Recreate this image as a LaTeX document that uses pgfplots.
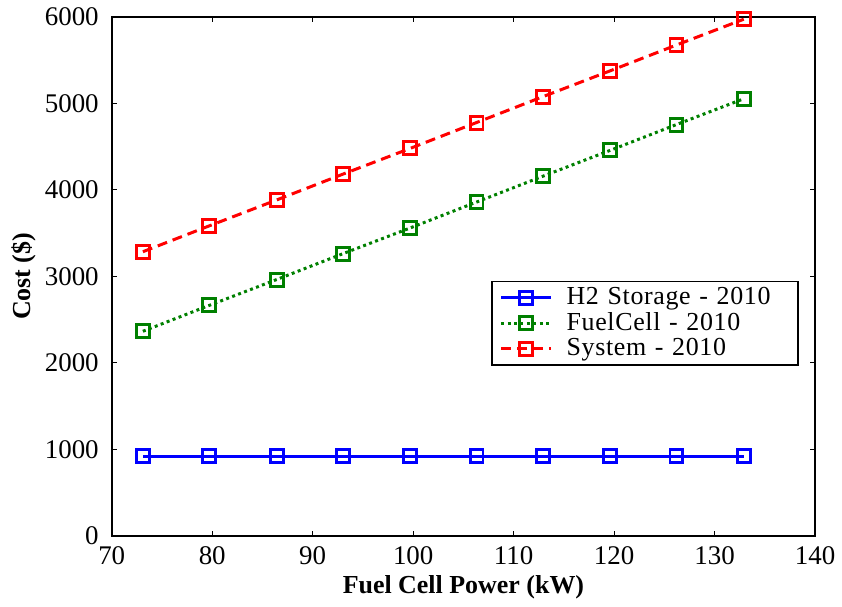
\documentclass[border=0pt]{standalone}
\usepackage{fontspec}
\setmainfont{Liberation Serif}
\newfontfamily\legfont[LetterSpace=2.5]{Liberation Serif}
\usepackage{pgfplots}
\pgfplotsset{compat=1.18}
\definecolor{mblue}{RGB}{0,0,255}
\definecolor{mgreen}{RGB}{0,128,0}
\definecolor{mred}{RGB}{255,0,0}
\begin{document}
\begin{tikzpicture}
\begin{axis}[
    scale only axis,
    at={(0,0)}, anchor=south west,
    width=352.5pt, height=260pt,
    xmin=70, xmax=140, ymin=0, ymax=6000,
    xtick={70,80,...,140},
    ytick={0,1000,...,6000},
    tick align=inside,
    major tick length=2.5pt,
    axis line style={line width=0.9pt},
    every tick/.style={black, line width=0.5pt},
    /pgf/number format/assume math mode=true,
    /pgf/number format/1000 sep={},
    tick label style={font=\fontsize{13.5}{15}\selectfont},
    xticklabel style={yshift=-2pt},
    yticklabel style={xshift=-3pt},
    xlabel={\textbf{Fuel Cell Power (kW)}},
    ylabel={\textbf{Cost (\$)}},
    label style={font=\fontsize{13}{15}\selectfont},
    xlabel style={at={(axis description cs:0.5,-0.1)}, anchor=center},
    ylabel style={at={(axis description cs:-0.125,0.5)}, anchor=center},
    legend style={at={(0.539,0.492)}, anchor=north west,
        font=\legfont\fontsize{13}{15}\selectfont, draw=black, line width=0.9pt,
        inner xsep=4pt, inner ysep=1pt, row sep=-1.5pt,
        text width=110pt},
    legend cell align=left,
    legend image code/.code={%
        \draw[mark repeat=2, mark phase=2, #1]
        plot coordinates {(0pt,0pt) (12.5pt,0pt) (25pt,0pt)};
        \path (30pt,0pt);},
    every axis plot/.append style={line width=1.5pt, mark=square, mark size=3.25pt,
        mark options={solid, line width=1.5pt}},
]
\addplot[mblue] coordinates {
(73.1,920) (79.7,920) (86.4,920) (93.0,920) (99.7,920)
(106.3,920) (112.9,920) (119.6,920) (126.2,920) (132.9,920)};
\addlegendentry{H2 Storage - 2010}
\addplot[mgreen, dash pattern=on 1.5pt off 1.7pt] coordinates {
(73.1,2365) (79.7,2664) (86.4,2963) (93.0,3262) (99.7,3560)
(106.3,3859) (112.9,4158) (119.6,4457) (126.2,4756) (132.9,5054)};
\addlegendentry{FuelCell - 2010}
\addplot[mred, dash pattern=on 5pt off 3pt] coordinates {
(73.1,3285) (79.7,3584) (86.4,3883) (93.0,4182) (99.7,4480)
(106.3,4779) (112.9,5078) (119.6,5377) (126.2,5676) (132.9,5974)};
\addlegendentry{System - 2010}
\end{axis}
\path (-56pt,-31pt) rectangle (365pt,268.5pt);
\end{tikzpicture}
\end{document}
